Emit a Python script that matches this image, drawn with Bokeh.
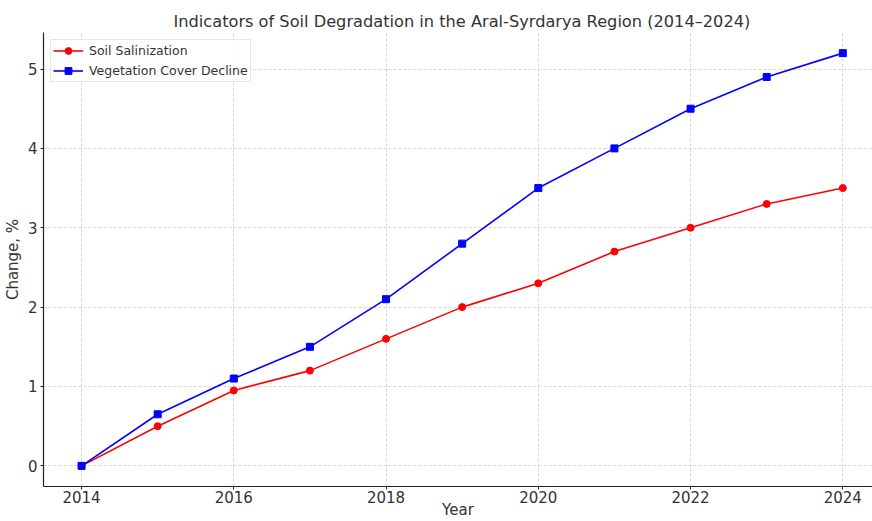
from bokeh.plotting import figure
from bokeh.models import Range1d, FixedTicker, Legend, LegendItem
from bokeh.embed import file_html
from bokeh.resources import INLINE

years = [2014, 2015, 2016, 2017, 2018, 2019, 2020, 2021, 2022, 2023, 2024]
soil_salinization = [0, 0.5, 0.95, 1.2, 1.6, 2.0, 2.3, 2.7, 3.0, 3.3, 3.5]
vegetation_decline = [0, 0.65, 1.1, 1.5, 2.1, 2.8, 3.5, 4.0, 4.5, 4.9, 5.2]
x_ticks = [2014, 2016, 2018, 2020, 2022, 2024]
y_ticks = [0, 1, 2, 3, 4, 5]

FONT = "DejaVu Sans"
TXT = "#333333"

p = figure(width=872, height=521, output_backend="svg", toolbar_location=None,
           x_range=Range1d(2013.5, 2024.39), y_range=Range1d(-0.26, 5.46),
           min_border_left=43, min_border_right=0, min_border_top=32, min_border_bottom=34)

p.title.text = "Indicators of Soil Degradation in the Aral-Syrdarya Region (2014\u20132024)"
p.title.align = "left"
p.title.offset = 130
p.title.text_font = FONT
p.title.text_font_size = "16.2px"
p.title.text_font_style = "normal"
p.title.text_color = TXT
p.title.standoff = 4

p.outline_line_color = None
p.background_fill_color = "white"

for ax in (p.xaxis[0], p.yaxis[0]):
    ax.axis_line_color = "#222222"
    ax.axis_line_width = 1.2
    ax.major_tick_line_color = "#222222"
    ax.major_tick_out = 3
    ax.major_tick_in = 0
    ax.minor_tick_line_color = None
    ax.major_label_text_font = FONT
    ax.major_label_text_font_size = "15px"
    ax.major_label_text_color = TXT
    ax.axis_label_text_font = FONT
    ax.axis_label_text_font_size = "15px"
    ax.axis_label_text_font_style = "normal"
    ax.axis_label_text_color = TXT

p.xaxis.ticker = FixedTicker(ticks=x_ticks)
p.yaxis.ticker = FixedTicker(ticks=y_ticks)
p.xaxis.axis_label = "Year"
p.yaxis.axis_label = "Change, %"
p.xaxis.major_label_standoff = 1
p.yaxis.major_label_standoff = 3
p.xaxis.axis_label_standoff = -5
p.yaxis.axis_label_standoff = 3

for g in (p.xgrid[0], p.ygrid[0]):
    g.grid_line_color = "#cccccc"
    g.grid_line_dash = "3 2"
    g.grid_line_width = 0.8

r1l = p.line(years, soil_salinization, line_color="red", line_width=1.6)
r1m = p.scatter(years, soil_salinization, marker="circle", size=7, fill_color="red", line_color="red")
r2l = p.line(years, vegetation_decline, line_color="blue", line_width=1.6)
r2m = p.scatter(years, vegetation_decline, marker="square", size=7, fill_color="blue", line_color="blue")

legend = Legend(items=[LegendItem(label="Soil Salinization", renderers=[r1l, r1m]),
                       LegendItem(label="Vegetation Cover Decline", renderers=[r2l, r2m])],
                location="top_left")
legend.label_text_font = FONT
legend.label_text_font_size = "12.5px"
legend.label_text_color = TXT
legend.border_line_color = "#d0d0d0"
legend.border_line_width = 1
legend.background_fill_alpha = 0.8
legend.margin = 7
legend.padding = 2
legend.spacing = 3
legend.glyph_width = 30
legend.glyph_height = 17
legend.label_height = 17
legend.label_standoff = 6
p.add_layout(legend)

open("out.html", "w").write(file_html(p, INLINE))
